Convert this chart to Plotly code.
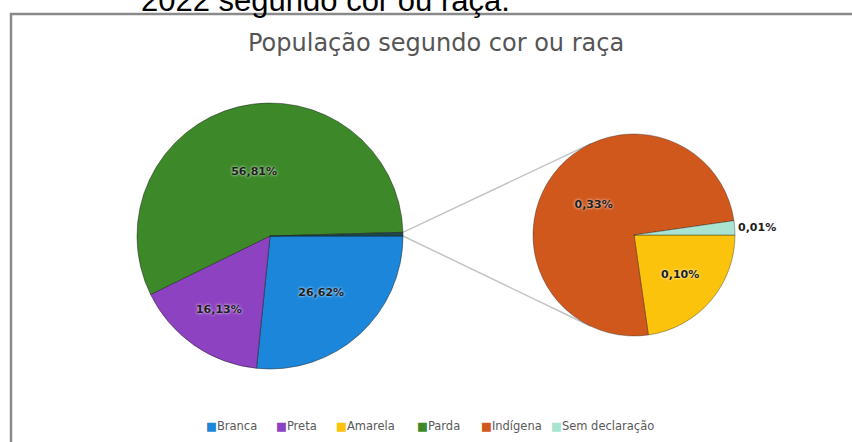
import math
import plotly.graph_objects as go

W, H = 852, 442

# população segundo cor ou raça (%)
main_labels = ['Branca', 'Preta', 'Parda', 'Outras']
sub_labels = ['Amarela', 'Indígena', 'Sem declaração']
sub_values = [0.10, 0.33, 0.01]
main_values = [26.62, 16.13, 56.81, round(sum(sub_values), 2)]
legend_order = ['Branca', 'Preta', 'Amarela', 'Parda', 'Indígena', 'Sem declaração']

colors = {'Branca': '#1b86da', 'Preta': '#8d43c1', 'Amarela': '#fbc30c',
          'Parda': '#3d892a', 'Indígena': '#d1581d', 'Sem declaração': '#a9e3d2',
          'Outras': '#1f4a4c'}
legend_widths = [25, 15, 36, 19, 25, 0]

# geometria (px)
MX, MY, MR = 270, 236, 133
SX, SY, SR = 634, 235, 101


def dom(cx, cy, r):
    return dict(x=[(cx - r) / W, (cx + r) / W], y=[1 - (cy + r) / H, 1 - (cy - r) / H])


def to_paper(p):
    return p[0] / W, 1 - p[1] / H


label_font = dict(family='DejaVu Sans', size=11, color='#1e1e1e', weight='bold',
                  shadow='0px 0px 3px white')

fig = go.Figure()

fig.add_trace(go.Pie(labels=main_labels, values=main_values, sort=False,
                     direction='clockwise', rotation=90, domain=dom(MX, MY, MR),
                     marker=dict(colors=[colors[l] for l in main_labels],
                                 line=dict(color='rgba(20,20,20,0.45)', width=1)),
                     texttemplate=['%{value:.2f}%'] * 3 + [''],
                     textposition='inside', insidetextorientation='horizontal',
                     textfont=label_font, showlegend=False, hoverinfo='label+value'))

fig.add_trace(go.Pie(labels=sub_labels, values=sub_values, sort=False,
                     direction='clockwise', rotation=90, domain=dom(SX, SY, SR),
                     marker=dict(colors=[colors[l] for l in sub_labels],
                                 line=dict(color='rgba(20,20,20,0.35)', width=1)),
                     texttemplate='%{value:.2f}%',
                     textposition=['inside', 'inside', 'outside'],
                     insidetextorientation='horizontal',
                     textfont=label_font, outsidetextfont=dict(family='DejaVu Sans', size=11,
                                                               color='#1e1e1e', weight='bold'),
                     showlegend=False, hoverinfo='label+value'))

# entradas da legenda na ordem do gráfico original (quadrado colado ao texto, como no Excel)
for name, lw in zip(legend_order, legend_widths):
    fig.add_trace(go.Scatter(x=[None], y=[None], mode='markers',
                             name=f'<span style="color:{colors[name]}">■</span>{name}',
                             marker=dict(size=7, color='rgba(0,0,0,0)'),
                             legendwidth=lw if lw else None))

# linhas de ligação entre as pizzas
theta = 2 * math.pi * main_values[-1] / sum(main_values)
p_up = (MX + MR * math.cos(theta), MY - MR * math.sin(theta))
p_lo = (MX + MR, MY)


def tangent(p, upper):
    dx, dy = p[0] - SX, p[1] - SY
    d = math.hypot(dx, dy)
    phi = math.atan2(dy, dx)
    a = math.acos(SR / d)
    pts = [(SX + SR * math.cos(phi + s * a), SY + SR * math.sin(phi + s * a)) for s in (1, -1)]
    return min(pts, key=lambda q: q[1]) if upper else max(pts, key=lambda q: q[1])


shapes = []
for p, up in ((p_up, True), (p_lo, False)):
    x0, y0 = to_paper(p)
    x1, y1 = to_paper(tangent(p, up))
    shapes.append(dict(type='line', xref='paper', yref='paper', x0=x0, y0=y0, x1=x1, y1=y1,
                       line=dict(color='#c4c4c4', width=1.5), layer='below'))

# moldura do gráfico
shapes.append(dict(type='rect', xref='paper', yref='paper', x0=11 / W, y0=-0.05, x1=1.05,
                   y1=1 - 14 / H, line=dict(color='#8a8a8a', width=2.5)))

fig.update_layout(
    width=W, height=H,
    margin=dict(l=0, r=0, t=0, b=0),
    paper_bgcolor='white', plot_bgcolor='white',
    separators=',.',
    font=dict(family='DejaVu Sans', color='#595959'),
    xaxis=dict(visible=False), yaxis=dict(visible=False),
    shapes=shapes,
    legend=dict(orientation='h', x=166 / W, xanchor='left', y=1 - 425 / H, yanchor='middle',
                font=dict(family='DejaVu Sans', size=11.5, color='#595959'),
                bgcolor='rgba(0,0,0,0)', itemclick=False, itemdoubleclick=False),
    annotations=[
        dict(text='População segundo cor ou raça', xref='paper', yref='paper',
             x=436 / W, y=1 - 43 / H, xanchor='center', yanchor='middle', showarrow=False,
             font=dict(family='DejaVu Sans', size=24, color='#555555')),
        dict(text='2022 segundo cor ou raça.', xref='paper', yref='paper',
             x=139 / W, y=1 - 20 / H, xanchor='left', yanchor='bottom', showarrow=False,
             font=dict(family='Liberation Sans', size=31, color='black')),
    ],
)

fig.write_html('out.html', config=dict(displayModeBar=False),
               post_script="document.body.style.margin='0px';")
